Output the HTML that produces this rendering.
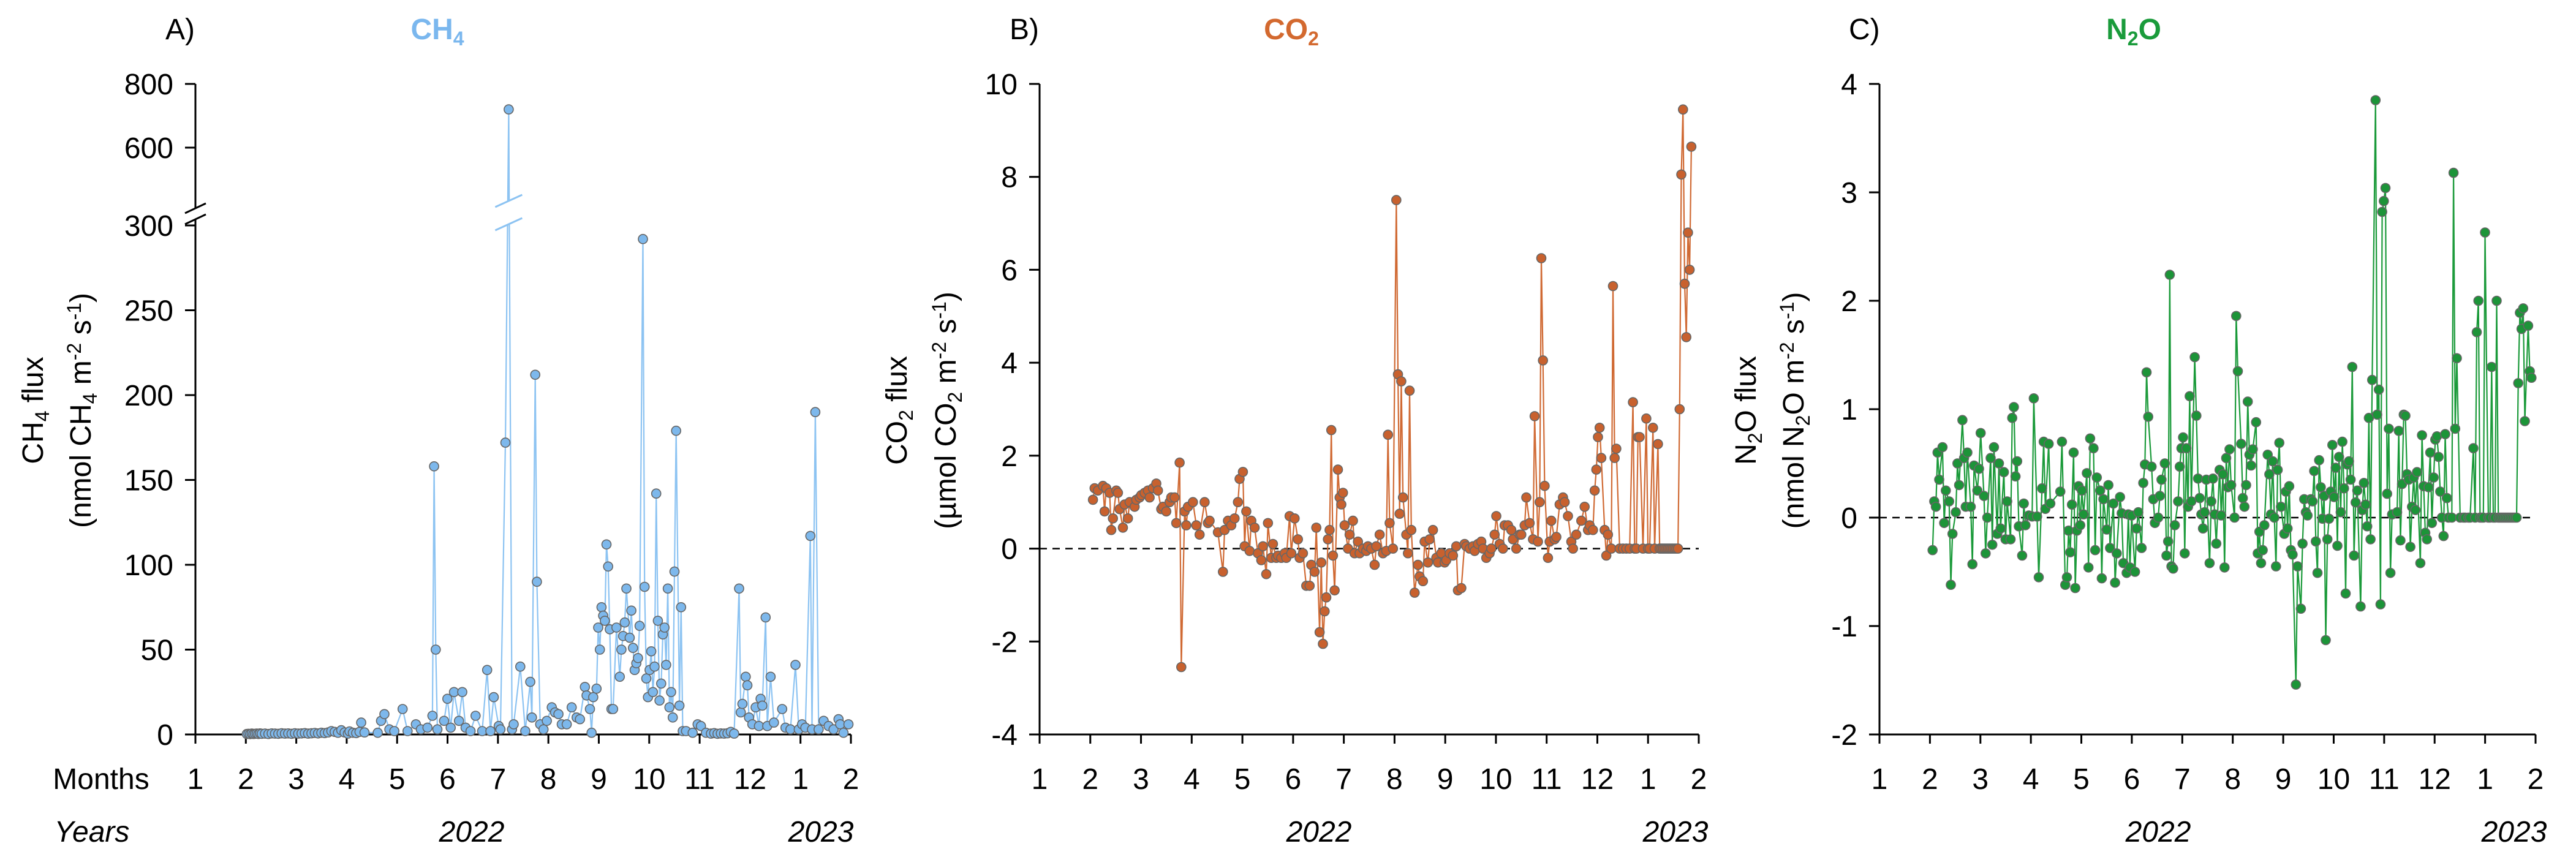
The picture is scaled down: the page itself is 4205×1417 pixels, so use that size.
<!DOCTYPE html>
<html><head><meta charset="utf-8"><style>
html,body{margin:0;padding:0;background:#fff}
svg{display:block;font-family:"Liberation Sans",sans-serif}
</style></head><body>
<svg id="chart" width="4205" height="1417" viewBox="0 0 4205 1417" xmlns="http://www.w3.org/2000/svg"></svg>
<script>
// ===== data (day = days since 1 Jan 2022) =====
const monthLabels = ["1","2","3","4","5","6","7","8","9","10","11","12","1","2"];
const ch4Ticks = [0,50,100,150,200,250,300,600,800];
const co2Ticks = [-4,-2,0,2,4,6,8,10];
const n2oTicks = [-2,-1,0,1,2,3,4];

const ch4Days = [31,32,33,34,35,36,37,38,39,40,42,44,46,48,50,52,54,56,58,60,62,64,66,68,70,72,74,76,78,80,82,84,86,88,90,92,93,95,97,99,100,102,110,112,114,117,120,125,128,133,136,140,143,144,145,146,150,152,154,156,159,161,163,166,169,173,176,178,180,183,184,187,189,191,192,196,199,202,203,205,206,208,210,212,215,217,219,221,224,227,230,232,235,236,238,239,240,242,243,244,245,246,247,248,249,250,251,252,254,256,257,258,259,260,262,263,264,265,266,267,268,270,271,272,273,274,275,276,277,278,279,280,281,282,283,284,285,286,287,288,289,290,292,293,294,296,300,303,305,308,311,313,315,317,319,321,323,325,328,329,330,332,333,334,336,338,340,341,342,344,345,347,349,354,356,359,362,364,366,368,371,372,374,376,379,382,385,388,389,391,394];
const ch4Vals = [0.3,0.4,0.2,0.5,0.3,0.4,0.5,0.3,0.6,0.4,0.5,0.3,0.6,0.5,0.4,0.7,0.5,0.6,0.4,0.7,0.5,0.6,0.8,0.5,0.7,0.9,0.6,1.0,0.8,1.2,2.0,1.5,1.0,2.5,1.2,0.5,1.8,1.0,0.8,1.5,7,1.2,1,8,12,3,2,15,2,6,3,4,11,158,50,3,8,21,4,25,8,25,4,2,11,2,38,2,22,5,3,172,720,3,6,40,2,31,10,212,90,6,3,8,16,13,12,6,6,16,10,9,28,23,15,1,22,27,63,50,75,70,67,112,99,62,15,15,63,34,50,58,66,86,57,73,51,38,42,45,64,292,87,33,22,38,49,25,40,142,67,20,30,59,63,41,86,16,25,10,96,179,17,75,2,2,1,6,5,1,0.5,0.8,0.4,0.6,0.5,0.7,1.5,0.5,86,13,18,34,29,10,6,16,5,21,17,69,5,34,7,15,4,3,41,3,6,4,117,3,190,3,8,5,3,9,6,1,6];

const co2Days = [32,33,35,38,39,40,42,43,44,46,47,48,50,51,53,54,57,58,60,61,63,65,66,68,70,71,73,74,76,78,79,81,82,84,85,87,88,89,92,94,96,99,101,102,107,110,111,113,115,117,119,120,122,123,124,126,127,129,131,133,134,136,137,139,140,142,143,145,147,148,150,151,153,155,156,158,160,162,163,165,166,168,169,170,171,172,173,174,175,176,177,179,180,181,182,183,185,186,188,189,191,192,194,196,197,199,201,202,204,206,208,209,210,212,214,215,216,217,218,220,221,222,223,225,227,228,230,231,233,234,236,238,239,241,243,244,246,248,250,251,253,255,256,258,260,261,263,265,266,268,270,271,273,274,276,278,279,281,283,284,286,288,289,291,292,294,296,297,299,300,301,302,303,305,306,307,309,310,312,314,315,317,319,320,322,325,327,329,330,332,333,334,335,336,337,339,340,341,343,344,345,346,
348,350,352,354,356,357,358,359,360,362,364,365,366,368,369,371,372,373,374,375,376,377,378,379,380,381,382,383,384,385,386,387,388,389,390,391];
const co2Vals = [1.05,1.3,1.25,1.35,0.8,1.3,1.2,0.4,0.65,1.25,1.2,0.85,0.45,0.95,0.65,1.0,0.9,1.05,1.1,1.15,1.2,1.25,1.1,1.3,1.4,1.25,0.85,0.9,0.8,1.0,1.1,1.1,0.55,1.85,-2.55,0.8,0.5,0.9,1.0,0.5,0.3,1.0,0.55,0.6,0.35,-0.5,0.4,0.6,0.5,0.65,1.0,1.5,1.65,0.05,0.8,-0.05,0.6,0.45,-0.1,-0.25,0.05,-0.55,0.55,-0.2,0.1,-0.2,-0.15,-0.2,-0.1,-0.2,0.7,-0.1,0.65,0.2,-0.2,-0.1,-0.8,-0.8,-0.35,-0.5,0.45,-1.8,-0.3,-2.05,-1.35,-1.05,0.2,0.4,2.55,-0.15,-0.9,1.7,1.1,0.95,1.2,0.5,0.0,0.3,0.6,-0.1,0.15,-0.1,0.0,-0.05,0.05,0.0,-0.35,0.05,0.3,-0.1,-0.05,2.45,0.55,0.0,7.5,3.75,0.75,3.6,1.1,0.3,-0.1,3.4,0.4,-0.95,-0.35,-0.6,-0.7,0.15,-0.3,0.2,0.4,-0.2,-0.3,-0.1,-0.3,-0.25,-0.1,-0.15,0.05,-0.9,-0.85,0.1,0.05,0.0,0.05,-0.05,0.1,0.15,0.0,-0.2,-0.1,0.0,0.3,0.7,0.1,0.0,0.5,0.5,0.4,0.2,0.0,0.3,0.3,0.5,1.1,0.55,0.2,2.85,0.15,1.0,6.25,4.05,1.35,-0.2,0.15,0.6,0.2,0.25,0.95,1.1,1.0,0.7,0.15,0.0,0.3,0.6,0.9,0.4,0.5,0.4,1.25,1.7,2.4,2.6,1.95,0.4,-0.15,0.3,0.0,5.65,1.95,2.15,
0,0,0,0,3.15,0,0,2.4,2.4,0,2.8,0,0,2.6,0,2.25,0,0,0,0,0,0,0,0,0,0,0,0,3.0,8.05,9.45,5.7,4.55,6.8,6.0,8.65];

const n2oDays = [32,33,34,35,36,38,39,40,42,43,44,46,47,48,50,51,52,53,55,56,57,59,60,61,63,64,65,67,68,69,71,72,73,75,76,77,79,80,81,82,83,84,86,87,88,90,92,93,95,96,98,99,100,102,103,109,110,112,113,114,115,116,117,118,119,120,121,122,123,125,126,127,129,130,131,133,134,135,137,138,139,141,142,143,145,146,147,149,150,151,152,154,155,156,158,159,160,161,162,164,165,166,168,169,170,172,173,174,175,176,177,178,180,181,182,183,184,185,186,187,188,190,191,192,193,194,195,196,197,199,200,201,202,203,205,206,207,208,209,210,211,212,214,215,216,218,219,220,221,222,223,224,225,227,228,229,230,231,232,234,235,236,237,238,239,240,241,242,244,245,246,247,248,249,251,252,254,255,256,257,258,260,261,262,263,264,265,266,267,268,269,270,271,272,273,274,275,276,277,278,279,280,281,282,283,284,285,286,287,288,290,291,292,293,294,295,296,297,299,300,301,302,303,304,305,306,307,308,309,312,313,314,315,316,317,318,319,320,321,322,323,324,326,327,328,329,330,331,332,333,334,335,336,337,338,339,340,341,342,343,345,346,347,348,
350,352,353,355,356,358,359,360,361,362,363,364,365,367,368,369,370,371,372,373,374,375,376,377,378,379,380,381,382,383,384,385,386,387,388,389,391,392,393];
const n2oVals = [-0.3,0.15,0.1,0.6,0.35,0.65,-0.05,0.25,0.15,-0.62,-0.15,0.05,0.5,0.3,0.9,0.55,0.1,0.6,0.1,-0.43,0.48,0.25,0.45,0.78,0.2,-0.33,0.0,0.55,-0.25,0.65,-0.15,0.5,-0.1,0.42,-0.2,0.15,-0.2,0.92,1.02,0.38,0.52,-0.08,-0.35,0.13,-0.07,0.02,0.01,1.1,0.01,-0.55,0.27,0.7,0.08,0.68,0.13,0.24,0.7,-0.62,-0.55,-0.12,-0.32,0.12,0.6,-0.65,-0.12,0.29,-0.07,0.25,0.03,0.41,-0.46,0.73,0.64,-0.3,0.37,0.25,-0.56,0.17,-0.11,0.3,-0.28,0.13,-0.6,-0.33,0.19,0.04,-0.42,-0.51,0.03,-0.46,0.02,-0.5,-0.1,0.05,-0.28,0.32,0.49,1.34,0.93,0.47,0.17,-0.05,0.0,0.2,0.35,0.5,-0.35,-0.22,2.24,-0.45,-0.47,-0.07,0.15,0.47,0.64,0.74,-0.33,0.64,0.1,1.12,0.15,1.48,0.94,0.36,0.18,0.03,-0.1,0.05,0.35,-0.42,0.15,0.36,0.03,-0.24,0.44,0.02,0.4,-0.46,0.55,0.28,0.63,0.3,0.0,1.86,1.35,0.68,0.18,0.1,0.3,1.07,0.58,0.48,0.63,0.88,-0.33,-0.13,-0.42,-0.3,-0.07,0.58,0.4,0.03,0.52,0.0,-0.45,0.44,0.69,0.1,-0.15,0.24,-0.1,0.29,-0.3,-0.34,-1.54,-0.45,-0.84,-0.24,0.17,0.05,0.02,0.17,0.15,0.43,-0.22,-0.51,0.53,0.28,-0.01,0.2,-1.13,-0.2,-0.01,0.24,0.67,0.19,0.46,-0.26,0.56,0.05,0.7,0.27,-0.7,0.49,0.52,0.35,1.39,-0.35,0.14,0.25,-0.82,0.07,0.32,0.12,-0.08,0.92,-0.2,1.27,3.85,0.95,1.18,-0.8,2.82,2.92,3.04,0.22,0.82,-0.51,0.03,0.05,0.8,-0.21,0.31,0.95,0.94,0.4,0.35,-0.27,0.1,0.37,0.07,0.42,-0.42,0.76,0.29,-0.14,-0.2,0.28,0.6,-0.05,0.37,0.72,0.75,0.56,0.24,0.0,-0.17,0.77,0.18,0.0,0.0,3.18,0.82,1.47,
0,0,0,0,0,0.64,0,1.71,2.0,0,0,0,2.63,0,0,1.39,0,0,2.0,0,0,0,0,0,0,0,0,0,0,0,0,1.24,1.89,1.74,1.93,0.89,1.77,1.35,1.29];

// ===== rendering =====
const NS = "http://www.w3.org/2000/svg";
const svg = document.getElementById("chart");
function mk(tag, attrs, parent){ const e=document.createElementNS(NS,tag); for(const k in attrs) e.setAttribute(k,attrs[k]); (parent||svg).appendChild(e); return e; }
function txt(s, attrs, parent){ const t=mk("text",attrs,parent); t.textContent=s; return t; }
const Y0=1199, YTOP=137, FS=48;

function xScaleFor(ax0, ax1){ const ppm=(ax1-ax0)/13; return d => ax0 + d/30.42*ppm; }

function drawPanel(cfg){
  const n = Math.min(cfg.days.length, cfg.vals.length);
  const days = cfg.days.slice(0,n), vals = cfg.vals.slice(0,n);
  const g = mk("g",{});
  
  
  const xs = xScaleFor(cfg.ax0, cfg.ax1), ys = cfg.ys;
  const xa = mk("line",{x1:cfg.ax0,y1:Y0,x2:cfg.ax1,y2:Y0,stroke:"#000","stroke-width":3},g);
  
  
  const ppm=(cfg.ax1-cfg.ax0)/13;
  monthLabels.forEach((m,i)=>{
    const x=cfg.ax0+i*ppm;
    mk("line",{x1:x,y1:Y0,x2:x,y2:Y0+15,stroke:"#000","stroke-width":3},g);
    const t=txt(m,{x:x,y:1288,"font-size":FS,"text-anchor":"middle",fill:"#000"},g);
    
    
  });
  if(cfg.breakAxis){
    mk("line",{x1:cfg.ax0,y1:YTOP,x2:cfg.ax0,y2:340,stroke:"#000","stroke-width":3},g);
    mk("line",{x1:cfg.ax0,y1:358,x2:cfg.ax0,y2:Y0,stroke:"#000","stroke-width":3},g);
    mk("line",{x1:cfg.ax0-17,y1:348,x2:cfg.ax0+17,y2:332,stroke:"#000","stroke-width":3},g);
    mk("line",{x1:cfg.ax0-17,y1:366,x2:cfg.ax0+17,y2:350,stroke:"#000","stroke-width":3},g);
  } else {
    const ya=mk("line",{x1:cfg.ax0,y1:YTOP,x2:cfg.ax0,y2:Y0,stroke:"#000","stroke-width":3},g);
    
    
  }
  cfg.ticks.forEach(v=>{
    const y=ys(v);
    mk("line",{x1:cfg.ax0-17,y1:y,x2:cfg.ax0,y2:y,stroke:"#000","stroke-width":3},g);
    const t=txt(String(v),{x:cfg.ax0-36,y:y+17,"font-size":FS,"text-anchor":"end",fill:"#000"},g);
    
    
  });
  if(cfg.zeroLine){
    const z=mk("line",{x1:cfg.ax0,y1:ys(0),x2:cfg.ax1,y2:ys(0),stroke:"#000","stroke-width":2.5,"stroke-dasharray":"12,9"},g);
    
    
  }
  const pts = days.map((d,i)=>xs(d).toFixed(1)+","+ys(vals[i]).toFixed(1)).join(" ");
  const pl = mk("polyline",{points:pts,fill:"none",stroke:cfg.line,"stroke-width":2.2},g);
  
  
  if(cfg.breakAxis){
    vals.forEach((v,i)=>{ if(v>300){
      const x=xs(days[i]);
      mk("polygon",{points:`${x-22},${338} ${x+22},${318} ${x+22},${356} ${x-22},${376}`,fill:"#fff"},g);
      mk("line",{x1:x-22,y1:338,x2:x+22,y2:318,stroke:cfg.line,"stroke-width":3},g);
      mk("line",{x1:x-22,y1:376,x2:x+22,y2:356,stroke:cfg.line,"stroke-width":3},g);
    }});
  }
  days.forEach((d,i)=>{
    const c=mk("circle",{cx:xs(d).toFixed(1),cy:ys(vals[i]).toFixed(1),r:7.5,fill:cfg.fill,stroke:"#666","stroke-width":1.6},g);
    
    
  });
  const pl2=txt(cfg.letter,{x:cfg.letterX,y:64,"font-size":FS,fill:"#000"},g);
  
  
  const tt=mk("text",{x:cfg.titleX,y:64,"font-size":FS,"font-weight":"bold","text-anchor":"middle",fill:cfg.title},g);
  
  
  tt.innerHTML = cfg.titleHTML;
  const yl1=mk("text",{transform:`translate(${cfg.yl1},670) rotate(-90)`,"font-size":FS,"text-anchor":"middle",fill:"#000"},g);
  
  
  yl1.innerHTML = cfg.ylab1;
  const yl2=mk("text",{transform:`translate(${cfg.yl2},670) rotate(-90)`,"font-size":FS,"text-anchor":"middle",fill:"#000"},g);
  
  
  yl2.innerHTML = cfg.ylab2;
  const y1=txt("2022",{x:cfg.y2022,y:1374,"font-size":FS,"font-style":"italic","text-anchor":"middle",fill:"#000"},g);
  
  
  const y2=txt("2023",{x:cfg.y2023,y:1374,"font-size":FS,"font-style":"italic","text-anchor":"middle",fill:"#000"},g);
  
  
}
const sub = s => `<tspan dy="10" font-size="32">${s}</tspan><tspan dy="-10">`;
const sup = s => `<tspan dy="-16" font-size="32">${s}</tspan><tspan dy="16">`;

drawPanel({id:"ch4",ax0:319,ax1:1389,
  ys:v=> v<=300 ? Y0 - v*(Y0-368)/300 : 137 + (800-v)*0.52,
  ticks:ch4Ticks,zeroLine:false,breakAxis:true,days:ch4Days,vals:ch4Vals,
  line:"#8cc3f2",fill:"#7db8ec",title:"#7ab7ee",letter:"A)",letterX:270,titleX:714,
  titleHTML:"CH"+sub("4")+"</tspan>",
  ylab1:"CH"+sub("4")+" flux</tspan>",ylab2:"(nmol CH"+sub("4")+" m"+sup("-2")+" s"+sup("-1")+")</tspan></tspan></tspan>",
  yl1:70,yl2:148,y2022:770,y2023:1340});
drawPanel({id:"co2",ax0:1697,ax1:2773,
  ys:v=> Y0 - (v+4)*(Y0-YTOP)/14,
  ticks:co2Ticks,zeroLine:true,breakAxis:false,days:co2Days,vals:co2Vals,
  line:"#d06a34",fill:"#c8612e",title:"#d3692f",letter:"B)",letterX:1648,titleX:2108,
  titleHTML:"CO"+sub("2")+"</tspan>",
  ylab1:"CO"+sub("2")+" flux</tspan>",ylab2:"(µmol CO"+sub("2")+" m"+sup("-2")+" s"+sup("-1")+")</tspan></tspan></tspan>",
  yl1:1480,yl2:1560,y2022:2153,y2023:2735});
drawPanel({id:"n2o",ax0:3068,ax1:4139,
  ys:v=> Y0 - (v+2)*(Y0-YTOP)/6,
  ticks:n2oTicks,zeroLine:true,breakAxis:false,days:n2oDays,vals:n2oVals,
  line:"#1b9a3a",fill:"#1c9438",title:"#1a9b3b",letter:"C)",letterX:3018,titleX:3483,
  titleHTML:"N"+sub("2")+"O</tspan>",
  ylab1:"N"+sub("2")+"O flux</tspan>",ylab2:"(nmol N"+sub("2")+"O m"+sup("-2")+" s"+sup("-1")+")</tspan></tspan></tspan>",
  yl1:2866,yl2:2944,y2022:3523,y2023:4104});

const ml=txt("Months",{x:165,y:1288,"font-size":FS,"text-anchor":"middle",fill:"#000"});


const yl=txt("Years",{x:150,y:1374,"font-size":FS,"font-style":"italic","text-anchor":"middle",fill:"#000"});


</script>
</body></html>
